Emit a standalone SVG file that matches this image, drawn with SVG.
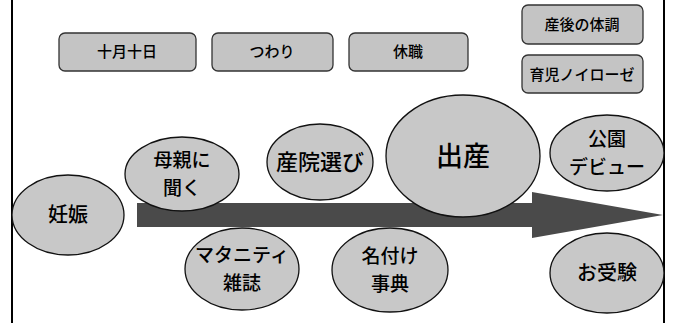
<svg xmlns="http://www.w3.org/2000/svg" width="674" height="323" viewBox="0 0 674 323">
<style>
.box{fill:#c4c4c4;stroke:#333;stroke-width:1.3}
.ell{fill:#c8c8c8;stroke:#111;stroke-width:1.3}
text{font-family:"Noto Sans CJK JP","Noto Sans",sans-serif;fill:#000;text-anchor:middle;font-weight:500}
.bt{font-size:15px}
.et{font-size:19px}
</style>
<rect width="674" height="323" fill="#fff"/>
<line x1="12" y1="0" x2="12" y2="323" stroke="#000" stroke-width="2"/>
<line x1="664" y1="0" x2="664" y2="323" stroke="#000" stroke-width="2"/>
<g id="connectors">
<polygon points="137,203 532,203 532,192 663,215 532,238 532,227 137,227" fill="#4a4a4a"/>
</g>
<g id="box-totsuki"><rect class="box" x="59" y="33" width="137" height="38" rx="6"/><text class="bt" x="127" y="57">十月十日</text></g>
<g id="box-tsuwari"><rect class="box" x="212" y="33" width="121" height="38" rx="6"/><text class="bt" x="272" y="57">つわり</text></g>
<g id="box-kyushoku"><rect class="box" x="349" y="33" width="119" height="38" rx="6"/><text class="bt" x="408" y="57">休職</text></g>
<g id="box-sango"><rect class="box" x="522" y="5" width="121" height="39" rx="6"/><text class="bt" x="582" y="30">産後の体調</text></g>
<g id="box-ikuji"><rect class="box" x="522" y="55" width="121" height="38" rx="6"/><text class="bt" x="582" y="80">育児ノイローゼ</text></g>
<g id="n-ninshin"><ellipse class="ell" cx="68" cy="215" rx="56" ry="40"/><text x="68" y="222" font-size="20">妊娠</text></g>
<g id="n-hahaoya"><ellipse class="ell" cx="182" cy="174" rx="57" ry="37"/><text class="et" x="182" y="167">母親に</text><text class="et" x="182" y="195">聞く</text></g>
<g id="n-sanin"><ellipse class="ell" cx="320" cy="162" rx="53" ry="38"/><text x="320" y="170" font-size="22">産院選び</text></g>
<g id="n-shussan"><ellipse class="ell" cx="463" cy="156" rx="77" ry="61" stroke-width="2"/><text x="463" y="166" font-size="27">出産</text></g>
<g id="n-koen"><ellipse class="ell" cx="607" cy="153" rx="57" ry="38"/><text class="et" x="607" y="146">公園</text><text class="et" x="607" y="174">デビュー</text></g>
<g id="n-maternity"><ellipse class="ell" cx="242" cy="269" rx="57" ry="41"/><text class="et" x="242" y="262">マタニティ</text><text class="et" x="242" y="290">雑誌</text></g>
<g id="n-nazuke"><ellipse class="ell" cx="390" cy="270" rx="58" ry="42"/><text class="et" x="390" y="263">名付け</text><text class="et" x="390" y="291">事典</text></g>
<g id="n-ojuken"><ellipse class="ell" cx="607" cy="273" rx="57" ry="40"/><text x="607" y="280" font-size="20">お受験</text></g>
</svg>
